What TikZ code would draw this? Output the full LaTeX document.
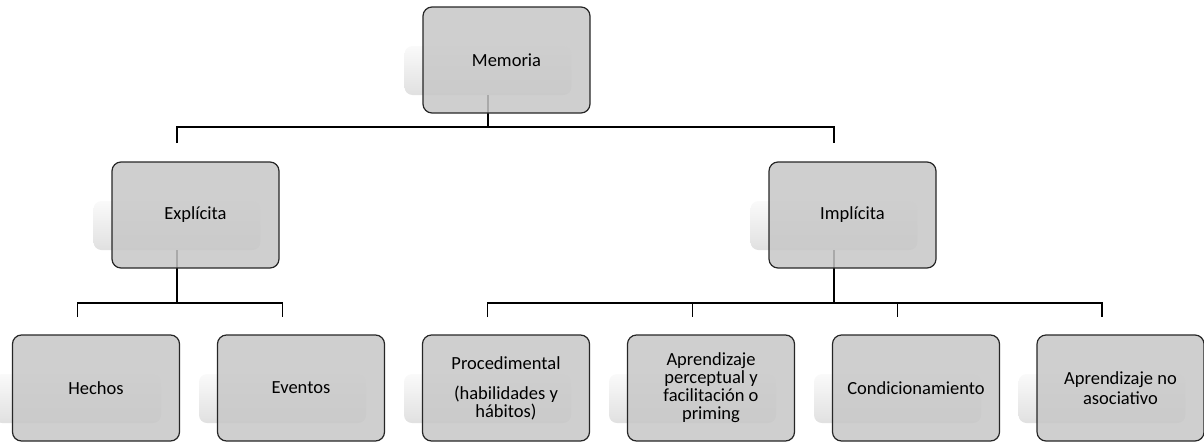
\documentclass[tikz,border=0pt]{standalone}
\usepackage{fontspec}
\setmainfont{Carlito}
\begin{document}
\begin{tikzpicture}[x=1pt,y=-1pt,
  box/.style={draw=black!85, line width=1.2pt, rounded corners=9pt, fill=black!22, fill opacity=0.85, text opacity=1,
    minimum width=167pt, minimum height=106pt, align=center, inner sep=2pt,
    font=\fontsize{18.5}{18}\selectfont, text=black},
  shadebox/.style={rounded corners=8pt, top color=black!2, bottom color=black!12, draw=none,
    minimum width=167pt, minimum height=49pt, inner sep=0pt},
  conn/.style={line width=1.3pt, black}]
\useasboundingbox (0,0) rectangle (1204,442);

% shadows
\node[shadebox] (memS) at (488,70.5) {};
\node[shadebox] (expS) at (177,225.5) {};
\node[shadebox] (impS) at (834,225.5) {};
\node[shadebox] (hecS) at (77.5,398.5) {};
\node[shadebox] (eveS) at (282.5,398.5) {};
\node[shadebox] (proS) at (487.5,398.5) {};
\node[shadebox] (aprS) at (692.5,398.5) {};
\node[shadebox] (conS) at (897.5,398.5) {};
\node[shadebox] (asoS) at (1102,398.5) {};

% connectors
\coordinate (t0) at (488,127);
\coordinate (tL) at (177,127);
\coordinate (tR) at (834,127);
\coordinate (tLe) at (177,143);
\coordinate (tRe) at (834,143);
\draw[conn] (memS.south) -- (t0);
\draw[conn] (tLe) -- (tL) -- (tR) -- (tRe);

\coordinate (eJ) at (177,303);
\coordinate (eL) at (77.5,303);
\coordinate (eR) at (282.5,303);
\coordinate (eLe) at (77.5,317);
\coordinate (eRe) at (282.5,317);
\draw[conn] (expS.south) -- (eJ);
\draw[conn] (eLe) -- (eL) -- (eR) -- (eRe);

\coordinate (iJ) at (834,303);
\coordinate (i1) at (487.5,303);
\coordinate (i2) at (692.5,303);
\coordinate (i3) at (897.5,303);
\coordinate (i4) at (1102,303);
\coordinate (i1e) at (487.5,317);
\coordinate (i2e) at (692.5,317);
\coordinate (i3e) at (897.5,317);
\coordinate (i4e) at (1102,317);
\draw[conn] (impS.south) -- (iJ);
\draw[conn] (i1e) -- (i1) -- (i4) -- (i4e);
\draw[conn] (i2) -- (i2e);
\draw[conn] (i3) -- (i3e);

% boxes
\node[box] (mem) at (506.5,60) {Memoria};
\node[box] (exp) at (195.5,215) {Explícita};
\node[box] (imp) at (852.5,215) {Implícita};
\node[box] (hec) at (96,388) {Hechos};
\node[box] (eve) at (301,388) {Eventos};
\node[box] (pro) at (506,388) {Procedimental\\[12pt](habilidades y\\hábitos)};
\node[box] (apr) at (711,388) {Aprendizaje\\perceptual y\\facilitación o\\priming};
\node[box] (con) at (916,388) {Condicionamiento};
\node[box] (aso) at (1120.5,388) {Aprendizaje no\\[2pt]asociativo};
\end{tikzpicture}
\end{document}
